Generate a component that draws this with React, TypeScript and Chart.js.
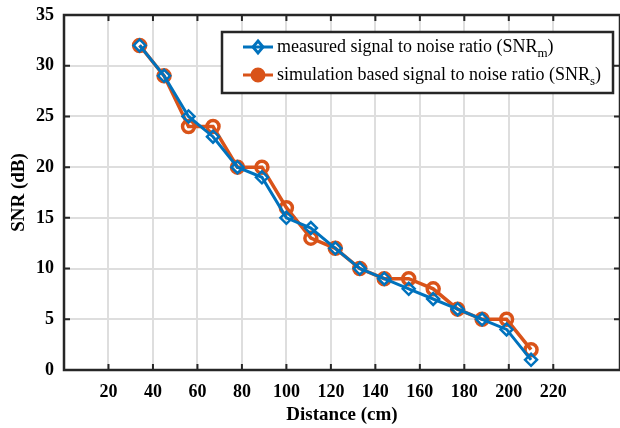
import React, { useEffect, useRef } from 'react';
import { Chart, registerables } from 'chart.js';

Chart.register(...registerables);

const distances = [34, 45, 56, 67, 78, 89, 100, 111, 122, 133, 144, 155, 166, 177, 188, 199, 210];
const measured = [32, 29, 25, 23, 20, 19, 15, 14, 12, 10, 9, 8, 7, 6, 5, 4, 1];
const simulated = [32, 29, 24, 24, 20, 20, 16, 13, 12, 10, 9, 9, 8, 6, 5, 5, 2];
const xTicks = [20, 40, 60, 80, 100, 120, 140, 160, 180, 200, 220];
const yTicks = [0, 5, 10, 15, 20, 25, 30, 35];
const legendMain = ['measured signal to noise ratio (SNR', 'simulation based signal to noise ratio (SNR'];
const legendSub = ['m', 's'];

const BLUE = '#0072BD';
const ORANGE = '#D95319';
const AXIS = '#262626';
const SERIF = '"Liberation Serif", "Times New Roman", serif';

const overlayPlugin = {
  id: 'overlay',
  afterDraw(chart: any) {
    const { ctx, chartArea } = chart;
    const { left, right, top, bottom } = chartArea;
    const xs = chart.scales.x;
    const ys = chart.scales.y;
    ctx.save();
    ctx.strokeStyle = AXIS;
    ctx.lineWidth = 2.5;
    ctx.strokeRect(left, top, right - left, bottom - top);
    ctx.lineWidth = 2;
    ctx.beginPath();
    const tl = 6;
    xTicks.forEach((v) => {
      const px = xs.getPixelForValue(v);
      ctx.moveTo(px, bottom);
      ctx.lineTo(px, bottom - tl);
      ctx.moveTo(px, top);
      ctx.lineTo(px, top + tl);
    });
    yTicks.forEach((v) => {
      const py = ys.getPixelForValue(v);
      ctx.moveTo(left, py);
      ctx.lineTo(left + tl, py);
      ctx.moveTo(right, py);
      ctx.lineTo(right - tl, py);
    });
    ctx.stroke();

    const lx = 222, ly = 32, lw = 391, lh = 61;
    ctx.fillStyle = '#fff';
    ctx.fillRect(lx, ly, lw, lh);
    ctx.strokeStyle = AXIS;
    ctx.lineWidth = 2.5;
    ctx.strokeRect(lx, ly, lw, lh);
    const colors = [BLUE, ORANGE];
    for (let i = 0; i < 2; i++) {
      const cy = 47 + i * 28;
      ctx.strokeStyle = colors[i];
      ctx.lineWidth = 3;
      ctx.beginPath();
      ctx.moveTo(243, cy);
      ctx.lineTo(273, cy);
      ctx.stroke();
      const mx = 258;
      ctx.beginPath();
      if (i === 0) {
        ctx.moveTo(mx, cy - 6);
        ctx.lineTo(mx + 5, cy);
        ctx.lineTo(mx, cy + 6);
        ctx.lineTo(mx - 5, cy);
        ctx.closePath();
      } else {
        ctx.arc(mx, cy, 6, 0, Math.PI * 2);
      }
      ctx.lineWidth = 3;
      ctx.stroke();
      if (i === 1) {
        ctx.fillStyle = ORANGE;
        ctx.fill();
      }
      ctx.fillStyle = '#000';
      ctx.textBaseline = 'middle';
      ctx.textAlign = 'left';
      ctx.font = `18px ${SERIF}`;
      const main = legendMain[i];
      ctx.fillText(main, 277, cy);
      let x = 277 + ctx.measureText(main).width;
      ctx.font = `13px ${SERIF}`;
      ctx.fillText(legendSub[i], x, cy + 7);
      x += ctx.measureText(legendSub[i]).width;
      ctx.font = `18px ${SERIF}`;
      ctx.fillText(')', x, cy);
    }
    ctx.restore();
  },
};

export default function App() {
  const ref = useRef<HTMLCanvasElement | null>(null);
  useEffect(() => {
    if (!ref.current) return;
    const tickFont = { family: SERIF, size: 18, weight: 'bold' as const };
    const titleFont = { family: SERIF, size: 19, weight: 'bold' as const };
    const chart = new Chart(ref.current, {
      type: 'line',
      data: {
        datasets: [
          {
            label: 'measured',
            data: distances.map((d, i) => ({ x: d, y: measured[i] })),
            borderColor: BLUE,
            backgroundColor: 'transparent',
            borderWidth: 3,
            pointStyle: 'rectRot',
            pointRadius: 6,
            pointBorderWidth: 2.5,
            pointBorderColor: BLUE,
            pointBackgroundColor: 'transparent',
          },
          {
            label: 'simulation',
            data: distances.map((d, i) => ({ x: d, y: simulated[i] })),
            borderColor: ORANGE,
            backgroundColor: 'transparent',
            borderWidth: 3.5,
            pointStyle: 'circle',
            pointRadius: 6,
            pointBorderWidth: 3.5,
            pointBorderColor: ORANGE,
            pointBackgroundColor: 'transparent',
          },
        ],
      },
      options: {
        responsive: false,
        animation: false,
        layout: { autoPadding: false, padding: { top: 15, right: 0, left: 0, bottom: 0 } },
        plugins: { legend: { display: false }, tooltip: { enabled: false } },
        scales: {
          x: {
            type: 'linear',
            min: 0,
            max: 250,
            afterBuildTicks: (s: any) => {
              s.ticks = xTicks.map((v) => ({ value: v }));
            },
            afterFit: (s: any) => {
              s.height = 58;
              s.paddingLeft = 0;
              s.paddingRight = 0;
            },
            grid: { color: '#dedede', lineWidth: 2, drawTicks: false },
            border: { display: false },
            ticks: { font: tickFont, color: '#000', padding: 12, maxRotation: 0, autoSkip: false },
            title: { display: true, text: 'Distance (cm)', font: titleFont, color: '#000', padding: { top: 0, bottom: 2 } },
          },
          y: {
            type: 'linear',
            min: 0,
            max: 35,
            afterBuildTicks: (s: any) => {
              s.ticks = yTicks.map((v) => ({ value: v }));
            },
            afterFit: (s: any) => {
              s.width = 64;
              s.paddingTop = 0;
              s.paddingBottom = 0;
            },
            grid: { color: '#dedede', lineWidth: 2, drawTicks: false },
            border: { display: false },
            ticks: { font: tickFont, color: '#000', padding: 10, autoSkip: false },
            title: { display: true, text: 'SNR (dB)', font: titleFont, color: '#000', padding: { top: 8, bottom: 0 } },
          },
        },
      },
      plugins: [overlayPlugin],
    });
    return () => chart.destroy();
  }, []);
  return (
    <div style={{ position: 'fixed', left: 0, top: 0, width: 620, height: 428, background: '#fff' }}>
      <canvas ref={ref} width={620} height={428} style={{ display: 'block' }} />
    </div>
  );
}
